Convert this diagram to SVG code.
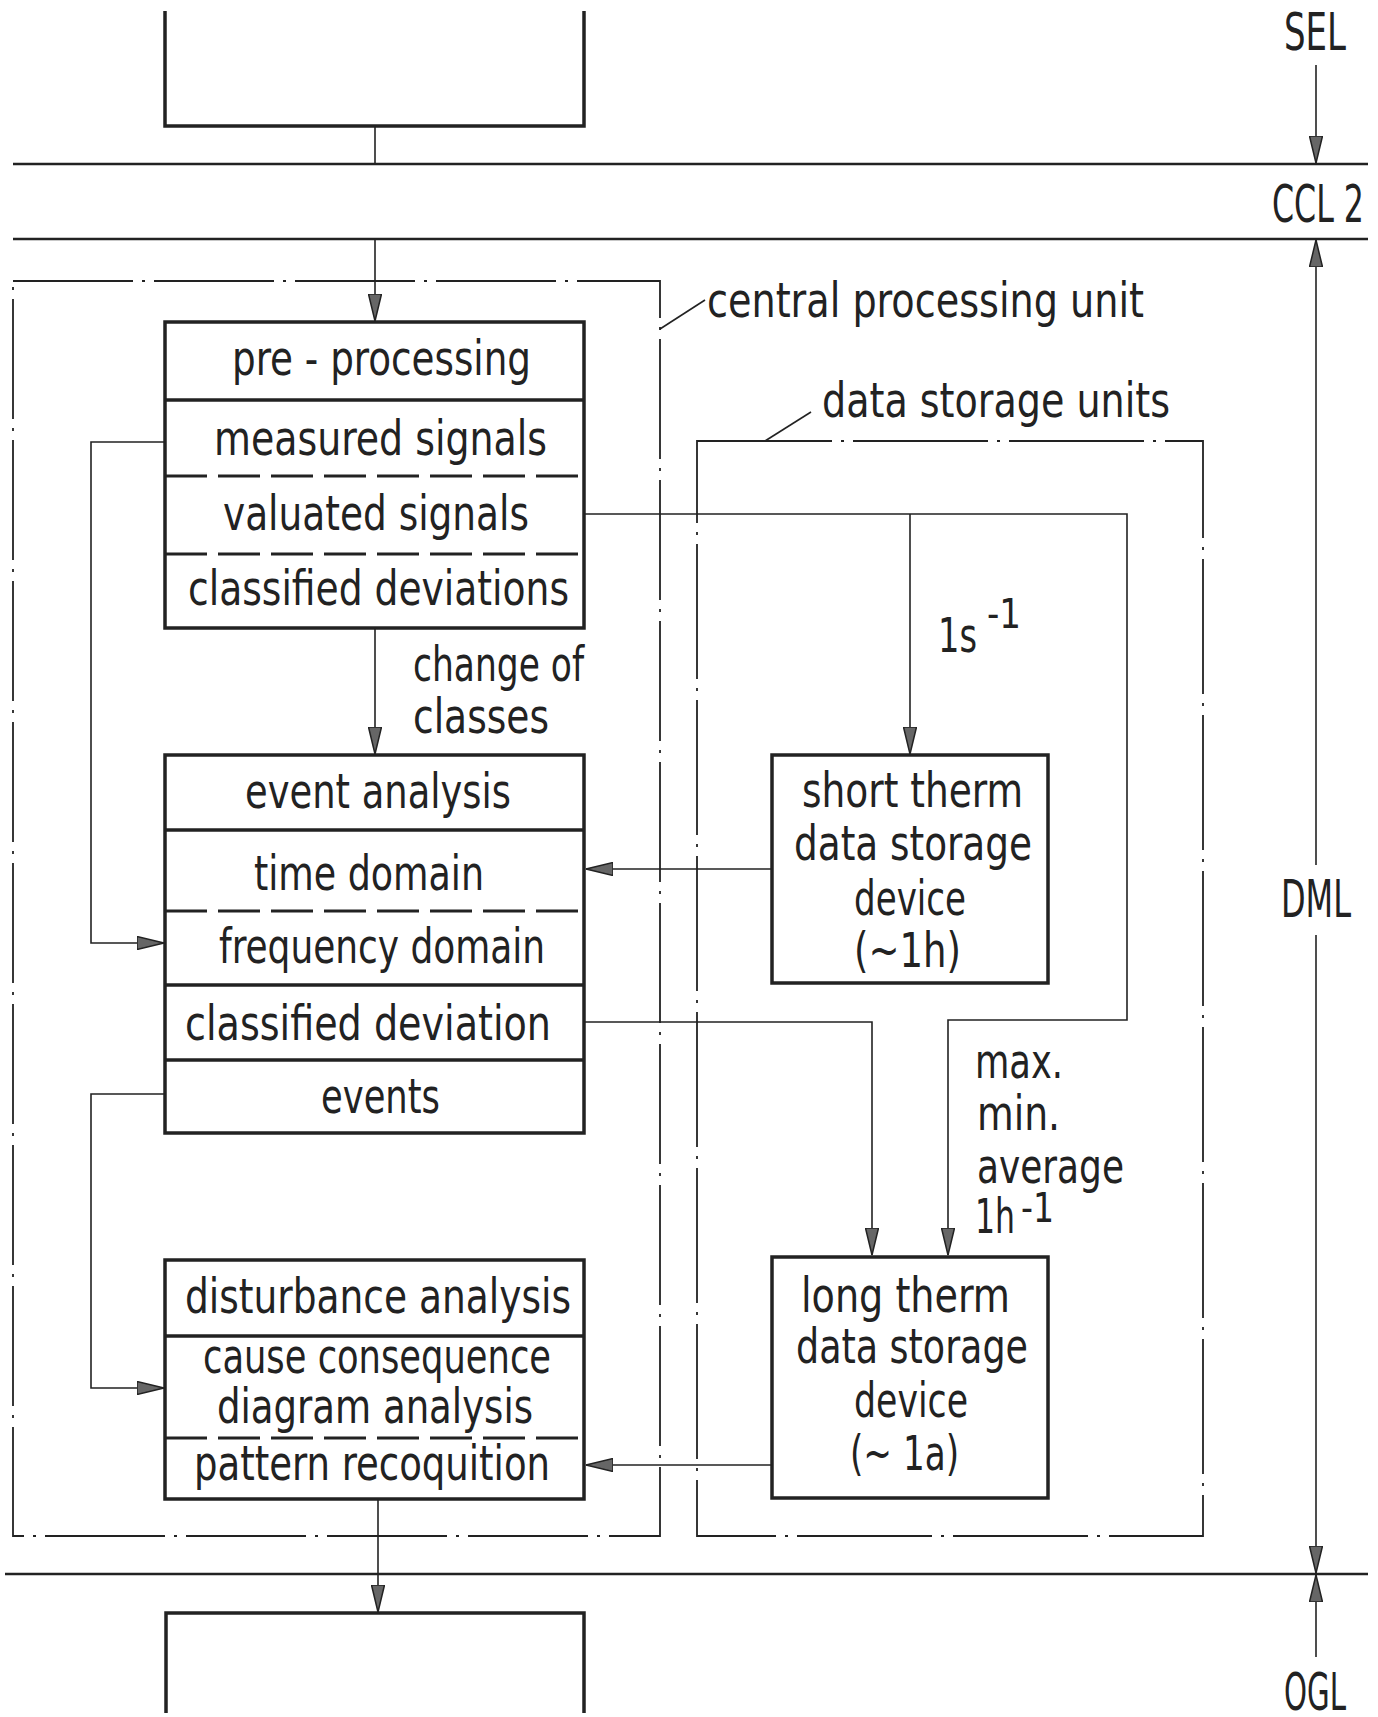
<svg xmlns="http://www.w3.org/2000/svg" width="1378" height="1717" viewBox="0 0 1378 1717">
<style>
.box{fill:none;stroke:#222;stroke-width:3.5}
.sep{stroke:#222;stroke-width:3.5}
.dsep{stroke:#222;stroke-width:3;stroke-dasharray:42 11}
.bus{stroke:#222;stroke-width:2.5;fill:none}
.cn{stroke:#222;stroke-width:1.6;fill:none}
.dd{fill:none;stroke:#222;stroke-width:1.8;stroke-dasharray:120 9 3 9}
.t{font-family:"Liberation Sans Narrow","DejaVu Sans Condensed","Liberation Sans",sans-serif;font-size:48px;fill:#222}
.lbl{font-family:"Liberation Sans Narrow","DejaVu Sans Condensed","Liberation Sans",sans-serif;font-size:52px;fill:#222}
</style>
<defs>
<marker id="ah" markerUnits="userSpaceOnUse" markerWidth="28" markerHeight="14" refX="27" refY="7" orient="auto">
<path d="M0,0.5 L27,7 L0,13.5 Z" fill="#666" stroke="#222" stroke-width="1.5"/>
</marker>
</defs>
<rect width="1378" height="1717" fill="#fff"/>

<g id="buses">
<line class="bus" x1="13" y1="164" x2="1368" y2="164"/>
<line class="bus" x1="13" y1="239" x2="1368" y2="239"/>
<line class="bus" x1="5" y1="1574" x2="1368" y2="1574"/>
</g>

<g id="top-box"><path class="box" d="M165,11 V126 H584 V11"/></g>
<g id="bottom-box"><path class="box" d="M166,1713 V1613 H584 V1713"/></g>

<g id="cpu-frame">
<rect class="dd" x="13" y="281" width="647" height="1255"/>
<text class="t" x="707" y="317" textLength="437" lengthAdjust="spacingAndGlyphs">central processing unit</text>
</g>
<g id="storage-frame">
<rect class="dd" x="697" y="441" width="506" height="1095" style="stroke-dasharray:135 9 3 9"/>
<text class="t" x="822" y="417" textLength="348" lengthAdjust="spacingAndGlyphs">data storage units</text>
</g>

<g id="preprocessing">
<rect class="box" x="165" y="322" width="419" height="306"/>
<line class="sep" x1="165" y1="400" x2="584" y2="400"/>
<line class="dsep" x1="165" y1="476" x2="584" y2="476"/>
<line class="dsep" x1="165" y1="554" x2="584" y2="554"/>
<text class="t" x="232" y="375" textLength="299" lengthAdjust="spacingAndGlyphs">pre - processing</text>
<text class="t" x="214" y="455" textLength="333" lengthAdjust="spacingAndGlyphs">measured  signals</text>
<text class="t" x="223" y="530" textLength="306" lengthAdjust="spacingAndGlyphs">valuated  signals</text>
<text class="t" x="188" y="605" textLength="381" lengthAdjust="spacingAndGlyphs">classified deviations</text>
</g>

<g id="event-analysis">
<rect class="box" x="165" y="755" width="419" height="378"/>
<line class="sep" x1="165" y1="830" x2="584" y2="830"/>
<line class="dsep" x1="165" y1="911" x2="584" y2="911"/>
<line class="sep" x1="165" y1="985" x2="584" y2="985"/>
<line class="sep" x1="165" y1="1060" x2="584" y2="1060"/>
<text class="t" x="245" y="808" textLength="266" lengthAdjust="spacingAndGlyphs">event analysis</text>
<text class="t" x="254" y="890" textLength="230" lengthAdjust="spacingAndGlyphs">time domain</text>
<text class="t" x="219" y="963" textLength="326" lengthAdjust="spacingAndGlyphs">frequency domain</text>
<text class="t" x="185" y="1040" textLength="366" lengthAdjust="spacingAndGlyphs">classified deviation</text>
<text class="t" x="321" y="1113" textLength="119" lengthAdjust="spacingAndGlyphs">events</text>
</g>

<g id="disturbance-analysis">
<rect class="box" x="165" y="1260" width="419" height="239"/>
<line class="sep" x1="165" y1="1336" x2="584" y2="1336"/>
<line class="dsep" x1="165" y1="1438" x2="584" y2="1438"/>
<text class="t" x="185" y="1313" textLength="386" lengthAdjust="spacingAndGlyphs">disturbance analysis</text>
<text class="t" x="203" y="1373" textLength="348" lengthAdjust="spacingAndGlyphs">cause consequence</text>
<text class="t" x="217" y="1423" textLength="316" lengthAdjust="spacingAndGlyphs">diagram analysis</text>
<text class="t" x="194" y="1480" textLength="356" lengthAdjust="spacingAndGlyphs">pattern recoquition</text>
</g>

<g id="short-term-storage">
<rect class="box" x="772" y="755" width="276" height="228"/>
<text class="t" x="802" y="807" textLength="221" lengthAdjust="spacingAndGlyphs">short therm</text>
<text class="t" x="794" y="860" textLength="238" lengthAdjust="spacingAndGlyphs">data storage</text>
<text class="t" x="854" y="915" textLength="112" lengthAdjust="spacingAndGlyphs">device</text>
<text class="t" x="854" y="967" textLength="107" lengthAdjust="spacingAndGlyphs">(~1h)</text>
</g>

<g id="long-term-storage">
<rect class="box" x="772" y="1257" width="276" height="241"/>
<text class="t" x="801" y="1312" textLength="209" lengthAdjust="spacingAndGlyphs">long therm</text>
<text class="t" x="796" y="1363" textLength="232" lengthAdjust="spacingAndGlyphs">data storage</text>
<text class="t" x="854" y="1417" textLength="114" lengthAdjust="spacingAndGlyphs">device</text>
<text class="t" x="850" y="1470" textLength="109" lengthAdjust="spacingAndGlyphs">(~ 1a)</text>
</g>

<g id="level-labels">
<text class="lbl" x="1284" y="50" textLength="62" lengthAdjust="spacingAndGlyphs">SEL</text>
<text class="lbl" x="1272" y="222" textLength="92" lengthAdjust="spacingAndGlyphs">CCL 2</text>
<text class="lbl" x="1281" y="917" textLength="70" lengthAdjust="spacingAndGlyphs">DML</text>
<text class="lbl" x="1284" y="1710" textLength="62" lengthAdjust="spacingAndGlyphs">OGL</text>
</g>

<g id="connectors">
<path class="cn" d="M375,126 V164"/>
<path class="cn" d="M375,239 V321" marker-end="url(#ah)"/>
<path class="cn" d="M375,628 V754" marker-end="url(#ah)"/>
<path class="cn" d="M378,1499 V1612" marker-end="url(#ah)"/>
<path class="cn" d="M165,442 H91 V943 H164" marker-end="url(#ah)"/>
<path class="cn" d="M165,1094 H91 V1388 H164" marker-end="url(#ah)"/>
<path class="cn" d="M584,514 H1127 V1020 H948 V1255" marker-end="url(#ah)"/>
<path class="cn" d="M910,514 V754" marker-end="url(#ah)"/>
<path class="cn" d="M584,1022 H872 V1255" marker-end="url(#ah)"/>
<path class="cn" d="M772,869 H586" marker-end="url(#ah)"/>
<path class="cn" d="M772,1465 H586" marker-end="url(#ah)"/>
<path class="cn" d="M660,329 L705,300"/>
<path class="cn" d="M765,441 L811,412"/>
<path class="cn" d="M1316,65 V163" marker-end="url(#ah)"/>
<path class="cn" d="M1316,865 V240" marker-end="url(#ah)"/>
<path class="cn" d="M1316,935 V1573" marker-end="url(#ah)"/>
<path class="cn" d="M1316,1657 V1575" marker-end="url(#ah)"/>
<text class="t" x="413" y="681" textLength="171" lengthAdjust="spacingAndGlyphs">change of</text>
<text class="t" x="413" y="733" textLength="136" lengthAdjust="spacingAndGlyphs">classes</text>
<text class="t"><tspan x="938" y="652" textLength="39" lengthAdjust="spacingAndGlyphs">1s</tspan><tspan x="987" y="628" font-size="40" textLength="34" lengthAdjust="spacingAndGlyphs">-1</tspan></text>
<text class="t" x="975" y="1078" textLength="88" lengthAdjust="spacingAndGlyphs">max.</text>
<text class="t" x="977" y="1130" textLength="83" lengthAdjust="spacingAndGlyphs">min.</text>
<text class="t" x="977" y="1183" textLength="147" lengthAdjust="spacingAndGlyphs">average</text>
<text class="t"><tspan x="975" y="1233" textLength="40" lengthAdjust="spacingAndGlyphs">1h</tspan><tspan x="1021" y="1222" font-size="40" textLength="33" lengthAdjust="spacingAndGlyphs">-1</tspan></text>
</g>
</svg>
